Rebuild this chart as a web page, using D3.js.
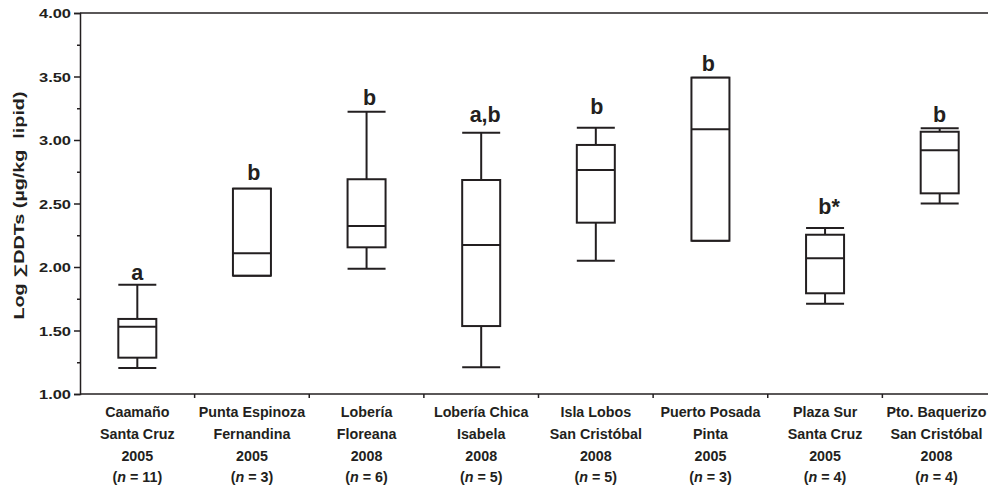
<!DOCTYPE html>
<html>
<head>
<meta charset="utf-8">
<script src="https://cdn.jsdelivr.net/npm/d3@7"></script>
<style>
  html, body { margin: 0; padding: 0; background: #fff; }
  svg { display: block; font-family: "Liberation Sans", Arial, sans-serif; }
</style>
</head>
<body>
<svg id="chart" width="988" height="485"></svg>
<script>
// Sampling sites (four label lines each) and sample sizes
const sites = ["Caamaño", "Punta Espinoza", "Lobería", "Lobería Chica", "Isla Lobos", "Puerto Posada", "Plaza Sur", "Pto. Baquerizo"];
const islands = ["Santa Cruz", "Fernandina", "Floreana", "Isabela", "San Cristóbal", "Pinta", "Santa Cruz", "San Cristóbal"];
const years = ["2005", "2005", "2008", "2008", "2008", "2005", "2005", "2008"];
const sampleSizes = [11, 3, 6, 5, 5, 3, 4, 4];

// Box-plot statistics, Log ΣDDTs (µg/kg lipid)
const whiskerMin = [1.205, 1.932, 1.987, 1.210, 2.050, 2.207, 1.711, 2.500];
const quartile1  = [1.286, 1.932, 2.155, 1.535, 2.349, 2.207, 1.793, 2.580];
const median     = [1.530, 2.108, 2.323, 2.173, 2.764, 3.084, 2.068, 2.920];
const quartile3  = [1.591, 2.617, 2.691, 2.685, 2.961, 3.491, 2.254, 3.065];
const whiskerMax = [1.861, 2.617, 3.223, 3.058, 3.097, 3.491, 2.307, 3.092];

// Significance groups
const groups = ["a", "b", "b", "a,b", "b", "b", "b*", "b"];

const yTicks = [1.00, 1.50, 2.00, 2.50, 3.00, 3.50, 4.00];
const yMinorTicks = [1.25, 1.75, 2.25, 2.75, 3.25, 3.75];

const ink = "#231f20";
const font = "'Liberation Sans', Arial, sans-serif";
const W = 988;
const svg = d3.select("#chart");

const x = d3.scaleBand().domain(d3.range(sites.length)).range([80, 997]).padding(0);
const y = d3.scaleLinear().domain([1, 4]).range([394, 13]);
const boxW = 38;

// Frame: top line
svg.append("line")
  .attr("x1", 80).attr("x2", 997).attr("y1", y(4)).attr("y2", y(4))
  .attr("stroke", ink).attr("stroke-width", 1.5);

// Y axis
const yAxis = svg.append("g").attr("transform", "translate(80,0)")
  .call(d3.axisLeft(y).tickValues(yTicks).tickFormat(d3.format(".2f")).tickSize(6).tickPadding(3));
yAxis.select(".domain").attr("stroke", ink).attr("stroke-width", 1.5);
yAxis.selectAll(".tick line").attr("stroke", ink).attr("stroke-width", 1.5);
yAxis.selectAll(".tick text").attr("fill", ink).attr("font-size", 13).attr("font-weight", "bold")
  .attr("font-family", font).attr("dy", "0.36em")
  .attr("textLength", 32).attr("lengthAdjust", "spacingAndGlyphs");

const yMinor = svg.append("g").attr("transform", "translate(80,0)")
  .call(d3.axisLeft(y).tickValues(yMinorTicks).tickFormat("").tickSize(3));
yMinor.select(".domain").remove();
yMinor.selectAll(".tick line").attr("stroke", ink).attr("stroke-width", 1.5);

// X axis with ticks on category boundaries
const boundaries = d3.range(1, sites.length + 1).map(i => 80 + i * x.bandwidth());
const xAxisG = svg.append("g").attr("transform", `translate(0,${y(1)})`);
xAxisG.append("line").attr("x1", 80).attr("x2", 997).attr("y1", 0).attr("y2", 0)
  .attr("stroke", ink).attr("stroke-width", 1.5);
xAxisG.selectAll("line.tk").data(boundaries).join("line").attr("class", "tk")
  .attr("x1", d => d).attr("x2", d => d).attr("y1", 0).attr("y2", 4)
  .attr("stroke", ink).attr("stroke-width", 1.5);

// Category labels (kept inside the right edge of the page)
const labelG = svg.append("g").attr("fill", ink).attr("font-size", 14.3).attr("font-weight", "bold")
  .attr("text-anchor", "middle");
sites.forEach((s, i) => {
  let cx = x(i) + x.bandwidth() / 2;
  const t = labelG.append("text").attr("x", cx).attr("y", 417);
  const lines = [
    t.append("tspan").attr("dy", 0).text(s),
    t.append("tspan").attr("dy", 22).text(islands[i]),
    t.append("tspan").attr("dy", 21.5).text(years[i])
  ];
  const n = t.append("tspan").attr("dy", 21.5);
  n.append("tspan").text("(");
  n.append("tspan").attr("font-style", "italic").text("n");
  n.append("tspan").text(" = " + sampleSizes[i] + ")");
  lines.push(n);
  const widest = d3.max(lines, l => l.node().getComputedTextLength());
  cx = Math.min(cx, W - 1.5 - widest / 2);
  lines.forEach(l => l.attr("x", cx));
});

// Y axis title
svg.append("text")
  .attr("transform", `translate(24,${(y(1) + y(4)) / 2 + 2}) rotate(-90)`)
  .attr("text-anchor", "middle").attr("fill", ink)
  .attr("font-size", 14).attr("font-weight", "bold")
  .attr("textLength", 228).attr("lengthAdjust", "spacingAndGlyphs")
  .style("white-space", "pre")
  .text("Log \u2211DDTs (\u00b5g/kg  lipid)");

// Boxes
const boxes = svg.append("g").attr("stroke", ink).attr("stroke-width", 2).attr("fill", "none");
sites.forEach((s, i) => {
  const cx = x(i) + x.bandwidth() / 2;
  const g = boxes.append("g");
  // whiskers
  g.append("line").attr("x1", cx).attr("x2", cx).attr("y1", y(whiskerMax[i])).attr("y2", y(quartile3[i]));
  g.append("line").attr("x1", cx).attr("x2", cx).attr("y1", y(quartile1[i])).attr("y2", y(whiskerMin[i]));
  // caps
  g.append("line").attr("x1", cx - boxW / 2).attr("x2", cx + boxW / 2).attr("y1", y(whiskerMax[i])).attr("y2", y(whiskerMax[i]));
  g.append("line").attr("x1", cx - boxW / 2).attr("x2", cx + boxW / 2).attr("y1", y(whiskerMin[i])).attr("y2", y(whiskerMin[i]));
  // box
  g.append("rect").attr("x", cx - boxW / 2).attr("width", boxW)
    .attr("y", y(quartile3[i])).attr("height", y(quartile1[i]) - y(quartile3[i]))
    .attr("fill", "#fff");
  // median
  g.append("line").attr("x1", cx - boxW / 2).attr("x2", cx + boxW / 2).attr("y1", y(median[i])).attr("y2", y(median[i]));
});

// Group letters above each box (gap in px between letter baseline and top of whisker)
const letterGap = [5, 8.5, 6.5, 11, 13.5, 7, 14, 6];
const letterShift = [0, 2, 3, 4, 1, -2, 4, 0];
svg.append("g").attr("fill", ink).attr("font-size", 21.5).attr("font-weight", "bold").attr("text-anchor", "middle")
  .selectAll("text").data(groups).join("text")
  .attr("x", (d, i) => x(i) + x.bandwidth() / 2 + letterShift[i])
  .attr("y", (d, i) => y(whiskerMax[i]) - letterGap[i])
  .text(d => d);
</script>
</body>
</html>
